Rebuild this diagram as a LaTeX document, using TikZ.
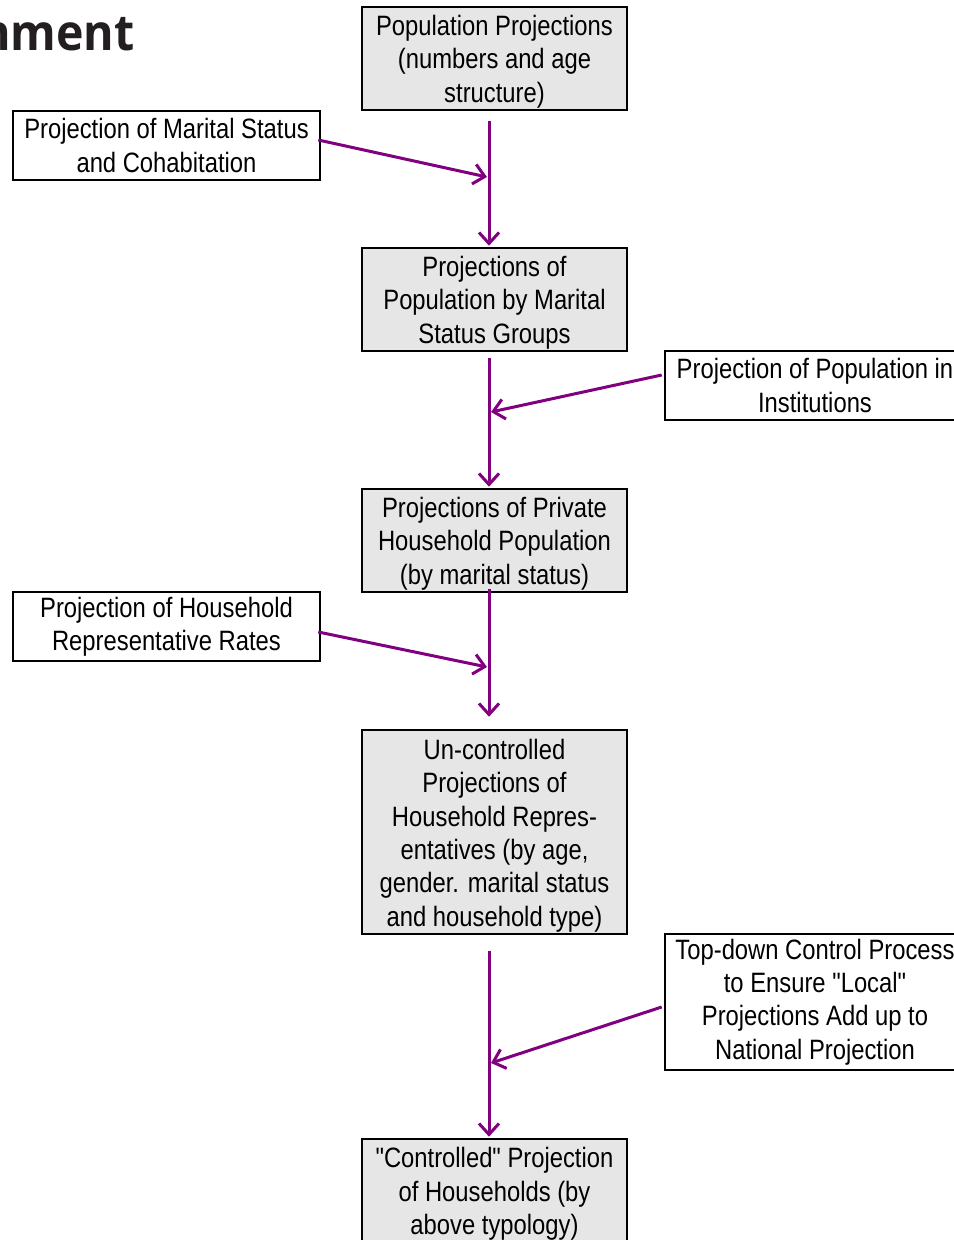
\documentclass[tikz,border=0pt]{standalone}
\usepackage{fontspec}
\usetikzlibrary{arrows.meta}
\newfontfamily\narrowfont[FakeStretch=0.85]{Liberation Sans}
\newfontfamily\logofont[FakeStretch=0.93]{Open Sans}
\definecolor{flowpurple}{HTML}{800080}
\definecolor{boxgray}{HTML}{E6E6E6}
\definecolor{logogray}{HTML}{231F20}
\begin{document}
\begin{tikzpicture}[x=1bp,y=-1bp,
  boxtext/.style={inner sep=0pt,align=center,
    font=\narrowfont\fontsize{28bp}{33.4bp}\selectfont},
  basebox/.style={draw=black,line width=2.6bp,rectangle,inner sep=0pt},
  mainbox/.style={basebox,fill=boxgray,minimum width=265bp},
  sidebox/.style={basebox,boxtext,fill=white},
  flow/.style={draw=flowpurple,line width=3bp,-{Straight Barb[length=11bp,width=20bp,line width=3bp]}}]
\useasboundingbox (0,0) rectangle (954,1240);
\clip (0,0) rectangle (954,1240);
\fill[white] (0,0) rectangle (954,1240);
% logo fragment
\node[anchor=base west,inner sep=0pt,text=logogray,font=\logofont\bfseries\fontsize{50bp}{50bp}\selectfont] (logo) at (-20,50) {nment};
% main column boxes
\node[mainbox,minimum height=103bp] (b1) at (494.5,58.5) {};
\node[mainbox,minimum height=103bp] (b2) at (494.5,299.5) {};
\node[mainbox,minimum height=103bp] (b3) at (494.5,540.5) {};
\node[mainbox,minimum height=204bp] (b4) at (494.5,832) {};
\node[mainbox,minimum height=104bp] (b5) at (494.5,1191) {};
% main column texts
\node[boxtext] (t1) at ([yshift=-3bp]b1.center) {Population Projections\\(numbers and age\\structure)};
\node[boxtext] (t2) at ([yshift=-3bp]b2.center) {Projections of\\Population by Marital\\Status Groups};
\node[boxtext] (t3) at ([yshift=-3bp]b3.center) {Projections of Private\\Household Population\\(by marital status)};
\node[boxtext] (t4) at ([yshift=-3.5bp]b4.center) {Un-controlled\\Projections of\\Household Repres-\\entatives (by age,\\gender. marital status\\and household type)};
\node[boxtext] (t5) at ([yshift=-3bp]b5.center) {"Controlled" Projection\\of Households (by\\above typology)};
% side boxes
\node[sidebox,minimum width=307bp,minimum height=69bp] (s1) at (166.5,145.5) {Projection of Marital Status\\and Cohabitation};
\node[sidebox,minimum width=300bp,minimum height=69bp] (s2) at (815,385.5) {Projection of Population in\\Institutions};
\node[sidebox,minimum width=307bp,minimum height=69bp] (s3) at (166.5,626.5) {Projection of Household\\Representative Rates};
\node[sidebox,minimum width=300bp,minimum height=136bp] (s4) at (815,1002) {Top-down Control Process\\to Ensure "Local"\\Projections Add up to\\National Projection};
% junction points on the main flow line
\coordinate (j1) at (487,177);
\coordinate (j2) at (491,412);
\coordinate (j3) at (487,667);
\coordinate (j4) at (491,1063);
% vertical flow
\draw[flow] ([xshift=-5.5bp,yshift=-10bp]b1.south) -- ([xshift=-5.5bp,yshift=1bp]b2.north);
\draw[flow] ([xshift=-5.5bp,yshift=-6bp]b2.south) -- ([xshift=-5.5bp,yshift=1bp]b3.north);
\draw[flow] ([xshift=-5.5bp,yshift=4bp]b3.south) -- ([xshift=-5.5bp,yshift=12bp]b4.north);
\draw[flow] ([xshift=-5.5bp,yshift=-16bp]b4.south) -- ([xshift=-5.5bp,yshift=1bp]b5.north);
% side inputs
\draw[flow] ([xshift=-3bp,yshift=5.5bp]s1.east) -- (j1);
\draw[flow] ([xshift=-2bp,yshift=10.5bp]s2.west) -- (j2);
\draw[flow] ([xshift=-3bp,yshift=-5.5bp]s3.east) -- (j3);
\draw[flow] ([xshift=-2bp,yshift=-5bp]s4.west) -- (j4);
\end{tikzpicture}
\end{document}
